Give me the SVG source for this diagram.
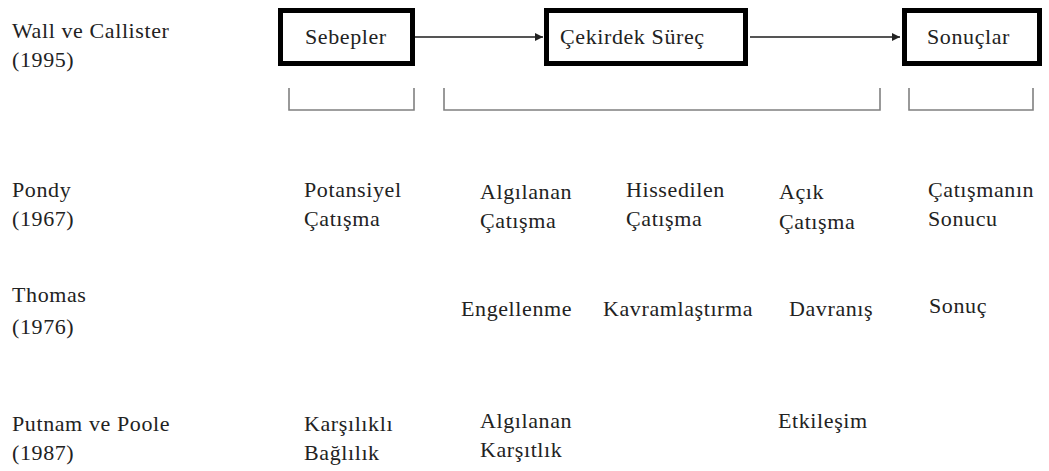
<svg xmlns="http://www.w3.org/2000/svg" width="1049" height="471" viewBox="0 0 1049 471" font-family="'Liberation Serif', 'DejaVu Serif', serif">
  <style>
    text { font-size: 22px; fill: #222; letter-spacing: 0.6px; }
    .box { fill: #fff; stroke: #000; stroke-width: 5; }
    .flow { stroke: #555; stroke-width: 2; fill: none; }
    .brace { stroke: #808080; stroke-width: 1.6; fill: none; }
  </style>
  <defs>
    <marker id="head" viewBox="0 0 10 10" refX="10" refY="5" markerWidth="4" markerHeight="4" orient="auto" markerUnits="strokeWidth">
      <path d="M0,0 L10,5 L0,10 z" fill="#222"/>
    </marker>
  </defs>
  <rect width="1049" height="471" fill="#fff"/>

  <!-- model labels -->
  <g id="wall-callister">
    <text x="12" y="38">Wall ve Callister</text>
    <text x="12" y="67">(1995)</text>
  </g>
  <g id="pondy">
    <text x="12" y="197">Pondy</text>
    <text x="12" y="226">(1967)</text>
  </g>
  <g id="thomas">
    <text x="12" y="302">Thomas</text>
    <text x="12" y="334">(1976)</text>
  </g>
  <g id="putnam-poole">
    <text x="12" y="431">Putnam ve Poole</text>
    <text x="12" y="460">(1987)</text>
  </g>

  <!-- stage boxes -->
  <g id="sebepler">
    <rect class="box" x="280.5" y="10.5" width="132" height="53"/>
    <text x="305" y="44">Sebepler</text>
  </g>
  <g id="cekirdek-surec">
    <rect class="box" x="546.5" y="10.5" width="199" height="53"/>
    <text x="560" y="44">Çekirdek Süreç</text>
  </g>
  <g id="sonuclar">
    <rect class="box" x="904.5" y="10.5" width="135" height="53"/>
    <text x="927" y="44">Sonuçlar</text>
  </g>

  <!-- arrows and brackets -->
  <g id="connectors">
    <line class="flow" x1="415" y1="37" x2="543" y2="37" marker-end="url(#head)"/>
    <line class="flow" x1="750" y1="37" x2="900" y2="37" marker-end="url(#head)"/>
    <path class="brace" d="M289,88 V110 H414 V88"/>
    <path class="brace" d="M444,88 V110 H880 V88"/>
    <path class="brace" d="M909,88 V110 H1033 V88"/>
  </g>

  <!-- Pondy stages -->
  <g id="pondy-stages">
    <text x="304" y="197">Potansiyel</text>
    <text x="304" y="226">Çatışma</text>
    <text x="480" y="199">Algılanan</text>
    <text x="480" y="228">Çatışma</text>
    <text x="626" y="197">Hissedilen</text>
    <text x="626" y="226">Çatışma</text>
    <text x="779" y="199">Açık</text>
    <text x="779" y="229">Çatışma</text>
    <text x="928" y="197">Çatışmanın</text>
    <text x="928" y="226">Sonucu</text>
  </g>

  <!-- Thomas stages -->
  <g id="thomas-stages">
    <text x="461" y="316">Engellenme</text>
    <text x="603" y="316">Kavramlaştırma</text>
    <text x="789" y="316">Davranış</text>
    <text x="929" y="313">Sonuç</text>
  </g>

  <!-- Putnam and Poole stages -->
  <g id="putnam-poole-stages">
    <text x="304" y="431">Karşılıklı</text>
    <text x="304" y="460">Bağlılık</text>
    <text x="480" y="428">Algılanan</text>
    <text x="480" y="457">Karşıtlık</text>
    <text x="778" y="428">Etkileşim</text>
  </g>
</svg>
